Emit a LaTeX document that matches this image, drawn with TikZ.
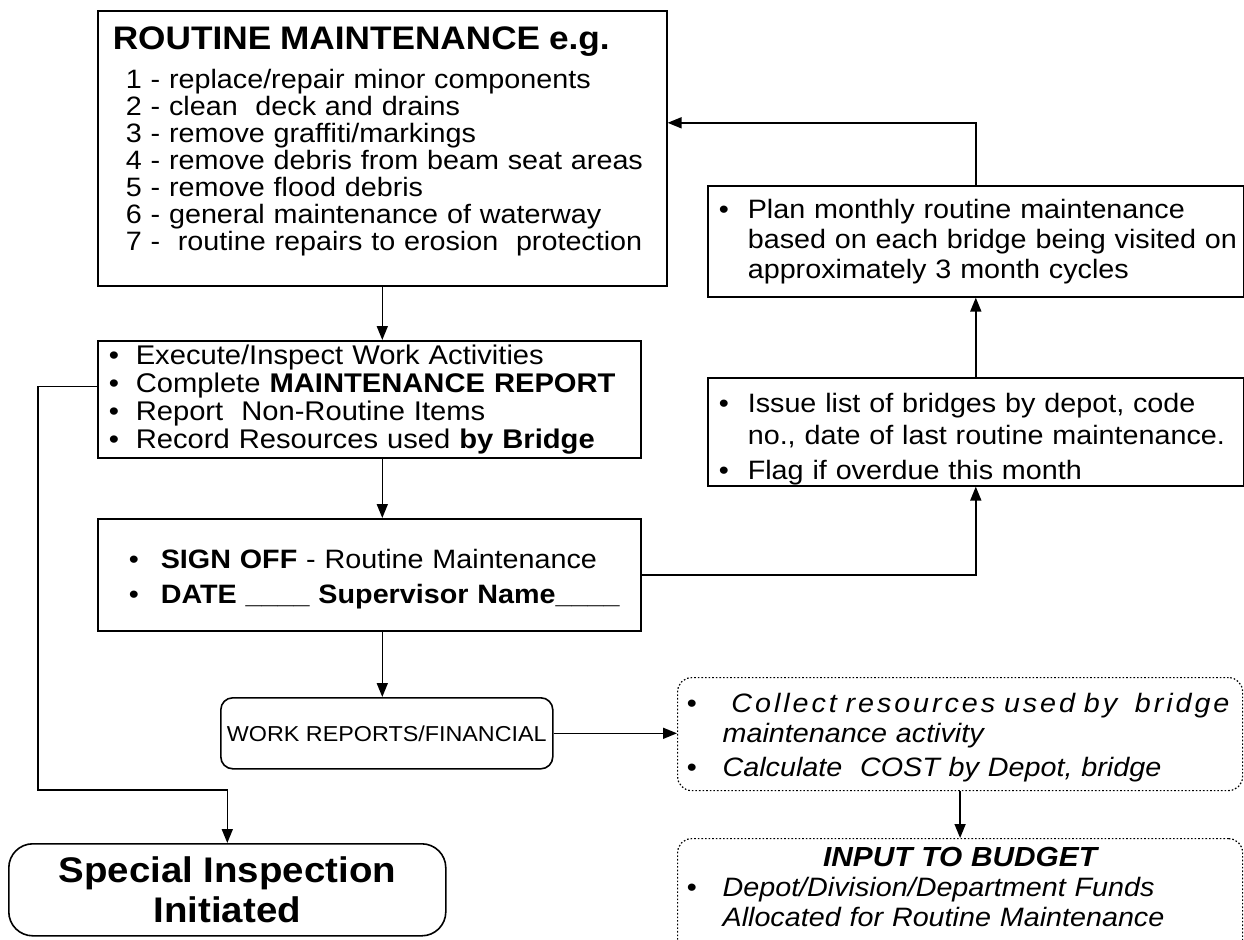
\documentclass[tikz,border=0pt]{standalone}
\usepackage{fontspec}
\setmainfont{Liberation Sans}[FakeStretch=1.08]
\usetikzlibrary{arrows.meta}

\tikzset{
  box/.style={draw, line width=0.8pt, anchor=north west, align=left, inner ysep=0pt},
  rbox/.style={box, rounded corners=6pt},
  dbox/.style={box, densely dotted, line width=0.6pt, rounded corners=7pt},
  flow/.style={line width=0.8pt, -{Triangle[length=7pt,width=5.5pt]}},
  body/.style={font=\fontsize{13.3}{15}\selectfont}
}
\newcommand\itm[1]{\makebox[#1][l]{\textbullet}}

\begin{document}
\begin{tikzpicture}[x=0.5pt, y=-0.5pt]
\useasboundingbox (0,0) rectangle (1244,939);

% left column
\node[box, inner xsep=3pt, text width=278.5pt, minimum height=137.5pt,
      font=\fontsize{13.3}{13.5}\selectfont] (r1) at (97,10)
 {\hspace*{4.5pt}{\bfseries\fontsize{16.3}{20}\selectfont ROUTINE MAINTENANCE e.g.}\\[6pt]
  \hspace*{11pt}1 - replace/repair minor components\\
  \hspace*{11pt}2 - clean\ \ deck and drains\\
  \hspace*{11pt}3 - remove graffiti/markings\\
  \hspace*{11pt}4 - remove debris from beam seat areas\\
  \hspace*{11pt}5 - remove flood debris\\
  \hspace*{11pt}6 - general maintenance of waterway\\
  \hspace*{11pt}7 -\ \ routine repairs to erosion\ \ protection\rule[-10pt]{0pt}{0pt}};
\node[box, inner xsep=5.5pt, text width=260.5pt, minimum height=58.5pt,
      font=\fontsize{13.5}{14}\selectfont] (r2) at (97,340)
 {\itm{13.5pt}Execute/Inspect Work Activities\\
  \itm{13.5pt}Complete \textbf{MAINTENANCE REPORT}\\
  \itm{13.5pt}Report\ \ Non-Routine Items\\
  \itm{13.5pt}Record Resources used \textbf{by Bridge}};
\node[box, inner xsep=5pt, text width=261.5pt, minimum height=56pt,
      font=\fontsize{13.3}{17.5}\selectfont] (r3) at (97,518)
 {\rule{0pt}{14pt}\hspace*{10.5pt}\itm{16pt}\textbf{SIGN OFF} - Routine Maintenance\\
  \hspace*{10.5pt}\itm{16pt}\textbf{DATE \_\_\_\_ Supervisor Name\_\_\_\_}};
\node[rbox, align=center, inner xsep=0pt, minimum width=166pt, minimum height=35.5pt,
      font=\fontsize{10.8}{12}\selectfont] (work) at (220,697) {WORK REPORTS/FINANCIAL};
\node[box, rounded corners=12pt, align=center, inner xsep=0pt, minimum width=218.5pt,
      minimum height=46pt, font=\bfseries\fontsize{17.8}{20}\selectfont] (special) at (8,843)
 {Special Inspection\\Initiated};

% right column
\node[box, body, inner xsep=3pt, text width=262pt, minimum height=55.5pt] (plan) at (707,185)
 {\hspace*{2.5pt}\itm{14.5pt}Plan monthly routine maintenance\\
  \hspace*{17pt}based on each bridge being visited on\\
  \hspace*{17pt}approximately 3 month cycles};
\node[box, inner xsep=3pt, text width=262pt, minimum height=54pt,
      font=\fontsize{13.3}{16}\selectfont] (issue) at (707,377)
 {\rule{0pt}{17pt}\hspace*{2.5pt}\itm{14.5pt}Issue list of bridges by depot, code\\
  \hspace*{17pt}no., date of last routine maintenance.\\[1.5pt]
  \hspace*{2.5pt}\itm{14.5pt}Flag if overdue this month};
\node[dbox, inner xsep=4.5pt, text width=273.5pt, minimum height=56.5pt,
      font=\itshape\fontsize{13.3}{15}\selectfont] (collect) at (677,677)
 {\rule{0pt}{13pt}\itm{18pt}{\addfontfeatures{LetterSpace=11}\ Collect resources used by\ \ bridge}\\
  \hspace*{18pt}maintenance activity\\[2pt]
  \itm{18pt}Calculate\ \ COST by Depot, bridge};
\node[dbox, inner xsep=4.5pt, inner ysep=4.5pt, text width=273.5pt,
      font=\itshape\fontsize{13.3}{15}\selectfont] (budget) at (677,838)
 {\makebox[273.5pt][c]{\bfseries\fontsize{13.8}{15}\selectfont INPUT TO BUDGET}\\
  \itm{18pt}Depot/Division/Department Funds\\
  \hspace*{18pt}Allocated for Routine Maintenance\rule[-12pt]{0pt}{0pt}};

% connectors
\draw[flow] (r1.south) -- (r1.south |- r2.north);
\draw[flow] (r1.south |- r2.south) -- (r1.south |- r3.north);
\draw[flow] (r1.south |- r3.south) -- (r1.south |- work.north);
\coordinate (bend) at (38,790);
\draw[flow] ([yshift=6.5pt]r2.west) -| (bend) -| (special.north);
\draw[flow] (work.east) -- (work.east -| collect.west);
\draw[flow] (collect.south) -- (budget.north);
\draw[flow] (r3.east) -| (issue.south);
\draw[flow] (issue.north) -- (plan.south);
\draw[flow] (plan.north) |- ([yshift=12.75pt]r1.east);
\end{tikzpicture}
\end{document}
